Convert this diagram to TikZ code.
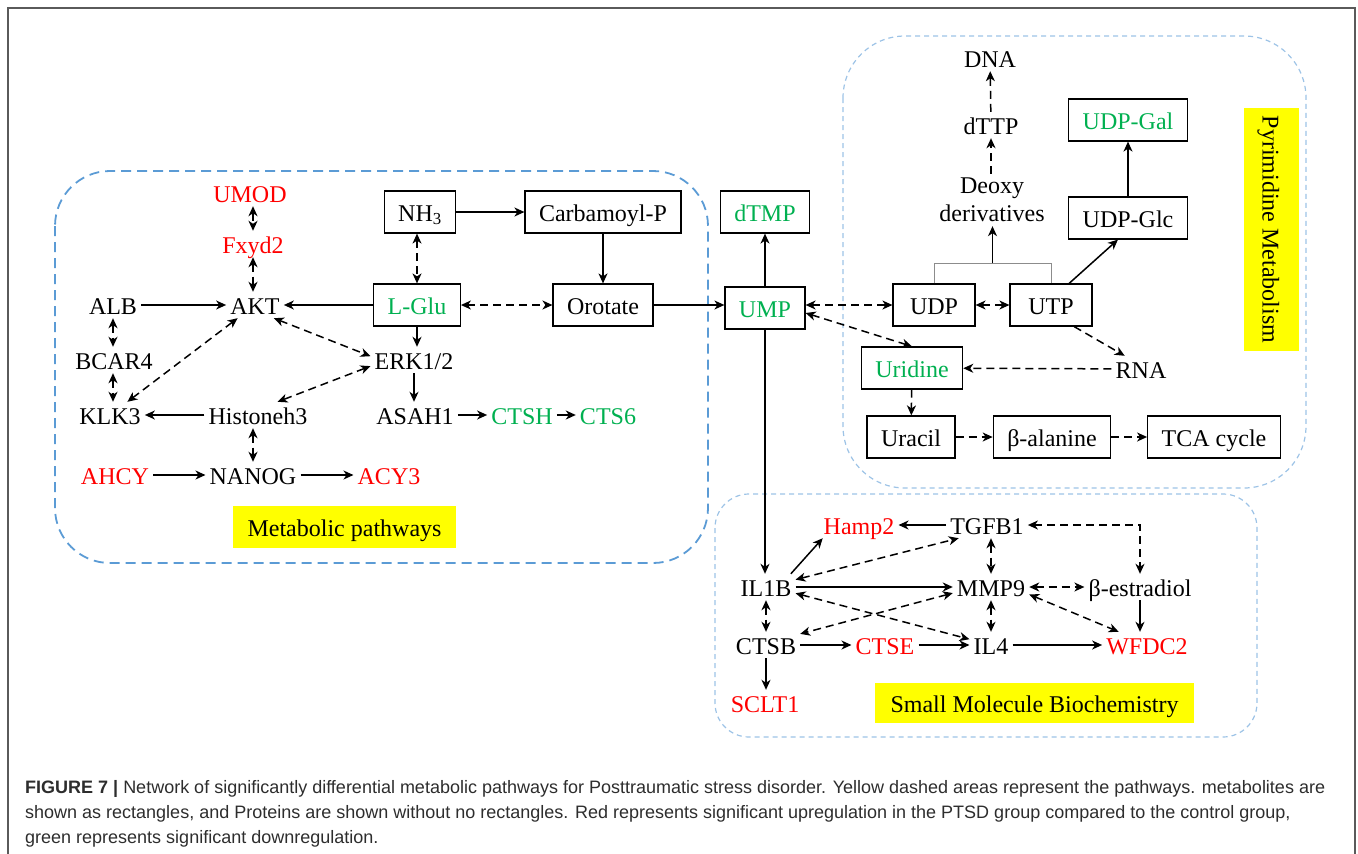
\documentclass[tikz,border=0pt]{standalone}
\usepackage{fontspec}
\setmainfont{Liberation Serif}
\setsansfont{Liberation Sans}
\usetikzlibrary{arrows.meta, positioning, calc}
\definecolor{upred}{RGB}{255,0,0}
\definecolor{downgreen}{RGB}{0,176,80}
\definecolor{pathblue}{RGB}{91,155,213}
\definecolor{areablue}{RGB}{157,195,230}
\definecolor{hlyellow}{RGB}{255,255,0}
\definecolor{framegray}{RGB}{90,90,90}
\definecolor{captext}{RGB}{45,45,45}
\tikzset{
  metab/.style={rectangle, draw=black, line width=1.2pt, minimum height=42pt,
    inner xsep=14pt, inner ysep=0pt, text height=18pt, text depth=0pt},
  prot/.style={inner sep=4pt, text height=18pt, text depth=0pt},
  up/.style={text=upred},
  down/.style={text=downgreen},
  tag/.style={fill=hlyellow, inner sep=0pt, text height=18pt, text depth=0pt},
  arrow/.style={-{Stealth[length=10pt,width=9pt,inset=3pt]}, line width=1.5pt},
  darrow/.style={{Stealth[length=10pt,width=9pt,inset=3pt]}-{Stealth[length=10pt,width=9pt,inset=3pt]},
    line width=1.5pt, dash pattern=on 8pt off 5pt},
  dline/.style={-{Stealth[length=10pt,width=9pt,inset=3pt]}, line width=1.5pt, dash pattern=on 8pt off 5pt},
  pathbox/.style={draw=pathblue, line width=1.8pt, dash pattern=on 10pt off 6pt, rounded corners=55pt},
  areabox/.style={draw=areablue, line width=1.2pt, dash pattern=on 5pt off 4pt},
  caption/.style={font=\sffamily\fontsize{18}{25}\selectfont, align=left, inner sep=0pt, text=captext}
}

\begin{document}
\begin{tikzpicture}[x=1pt, y=-1pt, every node/.style={font=\fontsize{24}{28}\selectfont}]
  \useasboundingbox (0,0) rectangle (1358,854);
  % figure frame
  \draw[framegray, line width=2pt] (8,854) -- (8,8) -- (1355,8) -- (1355,854);

  % pathway areas
  \draw[pathbox] (55,171) rectangle (708,563);
  \draw[areabox, rounded corners=62pt] (843,36) rectangle (1306,488);
  \draw[areabox, rounded corners=34pt] (715,494) rectangle (1257,737);

  % Metabolic pathways
  \node[prot, up] (umod) at (250,193) {UMOD};
  \node[prot, up] (fxyd) at (253,244) {Fxyd2};
  \node[prot] (akt) at (255,305) {AKT};
  \node[prot] (alb) at (113,305) {ALB};
  \node[prot] (bcar) at (114,360) {BCAR4};
  \node[prot] (klk) at (110,415) {KLK3};
  \node[prot] (hist) at (258,415) {Histoneh3};
  \node[prot] (nanog) at (253,475) {NANOG};
  \node[prot, up] (ahcy) at (115,475) {AHCY};
  \node[prot, up] (acy) at (389,475) {ACY3};
  \node[prot] (erk) at (414,360) {ERK1/2};
  \node[prot] (asah) at (415,415) {ASAH1};
  \node[prot, down] (ctsh) at (522,415) {CTSH};
  \node[prot, down] (cts6) at (608,415) {CTS6};
  \node[metab] (nh3) at (420,212) {NH\textsubscript{3}};
  \node[metab] (carb) at (603,212) {Carbamoyl-P};
  \node[metab, down] (lglu) at (417,305) {L-Glu};
  \node[metab] (orot) at (603,305) {Orotate};
  \node[tag, minimum width=223pt, minimum height=42pt] (mettag) at (344.5,527) {Metabolic pathways};

  \draw[darrow] (fxyd.north |- umod.south) -- (fxyd.north);
  \draw[darrow] (fxyd.south) -- (fxyd.south |- akt.north);
  \draw[arrow] (alb) -- (akt);
  \draw[arrow] (lglu) -- (akt);
  \draw[darrow] (alb) -- (alb |- bcar.north);
  \draw[darrow] (alb |- bcar.south) -- (alb |- klk.north);
  \draw[darrow] (klk) -- (akt);
  \draw[darrow] (akt.-35) -- (erk.175);
  \draw[darrow] (erk.188) -- (hist.34);
  \draw[arrow] (hist) -- (klk);
  \draw[darrow] (nanog.north |- hist.south) -- (nanog.north);
  \draw[arrow] (ahcy) -- (nanog);
  \draw[arrow] (nanog) -- (acy);
  \draw[darrow] (lglu |- nh3.south) -- (lglu.north);
  \draw[arrow] (nh3) -- (carb);
  \draw[arrow] (carb) -- (orot);
  \draw[darrow] (lglu) -- (orot);
  \draw[arrow] (lglu) -- (lglu |- erk.north);
  \draw[arrow] (erk) -- (erk |- asah.north);
  \draw[arrow] (asah) -- (ctsh);
  \draw[arrow] (ctsh) -- (cts6);

  % Pyrimidine Metabolism
  \node[metab, down] (dtmp) at (765,212) {dTMP};
  \node[metab, down] (ump) at (765,308) {UMP};
  \node[prot] (dna) at (990,58) {DNA};
  \node[prot] (dttp) at (991,125) {dTTP};
  \node[inner sep=4pt, align=center] (deoxy) at (992,200) {Deoxy\\derivatives};
  \node[metab, down, minimum width=119pt] (udpgal) at (1128,120) {UDP-Gal};
  \node[metab, minimum width=119pt] (udpglc) at (1128,218) {UDP-Glc};
  \node[metab, minimum width=82pt] (udp) at (934,305) {UDP};
  \node[metab, minimum width=82pt] (utp) at (1051,305) {UTP};
  \node[metab, down] (urid) at (912,368) {Uridine};
  \node[prot] (rna) at (1141,369) {RNA};
  \node[metab] (urac) at (911,437) {Uracil};
  \node[metab] (bala) at (1052,437) {β-alanine};
  \node[metab] (tca) at (1214,437) {TCA cycle};
  \node[tag, rotate=-90, minimum width=243pt, minimum height=55pt] (pyrtag) at (1271.5,229.5) {Pyrimidine Metabolism};

  \draw[arrow] (orot) -- (orot -| ump.west);
  \draw[arrow] (ump) -- (dtmp);
  \draw[darrow] (ump.east |- udp) -- (udp);
  \draw[darrow] (ump.-7) -- (urid.north);
  \draw[darrow] (udp) -- (utp);
  \draw[black!45, line width=1pt] (udp.north) -- ++(0,-20) coordinate (forkl) -| (utp.north);
  \coordinate (fork) at ($(forkl)!0.5!(forkl -| utp.north)$);
  \draw[arrow] (fork) -- (fork |- deoxy.south);
  \draw[dline] (deoxy.north -| dttp) -- (dttp);
  \draw[dline] (dttp) -- (dna);
  \draw[arrow] (utp.50) -- (udpglc.245);
  \draw[arrow] (udpglc) -- (udpgal);
  \draw[dline] (utp.-43) -- (rna.141);
  \draw[dline] (rna) -- (urid);
  \draw[dline] (urid) -- (urac);
  \draw[dline] (urac) -- (bala);
  \draw[dline] (bala) -- (tca);

  % Small Molecule Biochemistry
  \node[prot, up] (hamp) at (859,525) {Hamp2};
  \node[prot] (tgfb) at (987,525) {TGFB1};
  \node[prot] (il1b) at (766,587) {IL1B};
  \node[prot] (mmp) at (991,587) {MMP9};
  \node[prot] (estr) at (1140,587) {β-estradiol};
  \node[prot] (ctsb) at (766,645) {CTSB};
  \node[prot, up] (ctse) at (885,645) {CTSE};
  \node[prot] (il4) at (991,645) {IL4};
  \node[prot, up] (wfdc) at (1147,645) {WFDC2};
  \node[prot, up] (sclt) at (765,703) {SCLT1};
  \node[tag, minimum width=319pt, minimum height=40pt] (smtag) at (1034.5,703) {Small Molecule Biochemistry};

  \draw[arrow] (ump) -- (ump |- il1b.north);
  \draw[arrow] (tgfb) -- (hamp);
  \draw[arrow] (il1b.28) -- (hamp.200);
  \draw[darrow] (il1b.14) -- (tgfb.205);
  \draw[darrow] (mmp |- tgfb.south) -- (mmp);
  \draw[darrow] (tgfb) -| (estr);
  \draw[arrow] (il1b) -- (mmp);
  \draw[darrow] (mmp) -- (estr);
  \draw[darrow] (il1b.-12) -- (il4.165);
  \draw[darrow] (mmp.189) -- (ctsb.18);
  \draw[darrow] (mmp) -- (il4);
  \draw[darrow] (mmp.-11) -- (wfdc.155);
  \draw[arrow] (estr) -- (estr |- wfdc.north);
  \draw[darrow] (il1b) -- (ctsb);
  \draw[arrow] (ctsb) -- (ctse);
  \draw[arrow] (ctse) -- (il4);
  \draw[arrow] (il4) -- (wfdc);
  \draw[arrow] (ctsb) -- (ctsb |- sclt.north);

  % caption
  \node[caption, anchor=north west] (cap) at (25,780) {\textbf{FIGURE 7 |} Network of significantly differential metabolic pathways for Posttraumatic stress disorder. Yellow dashed areas represent the pathways. metabolites are\\
    shown as rectangles, and Proteins are shown without no rectangles. Red represents significant upregulation in the PTSD group compared to the control group,\\
    green represents significant downregulation.};
\end{tikzpicture}
\end{document}
